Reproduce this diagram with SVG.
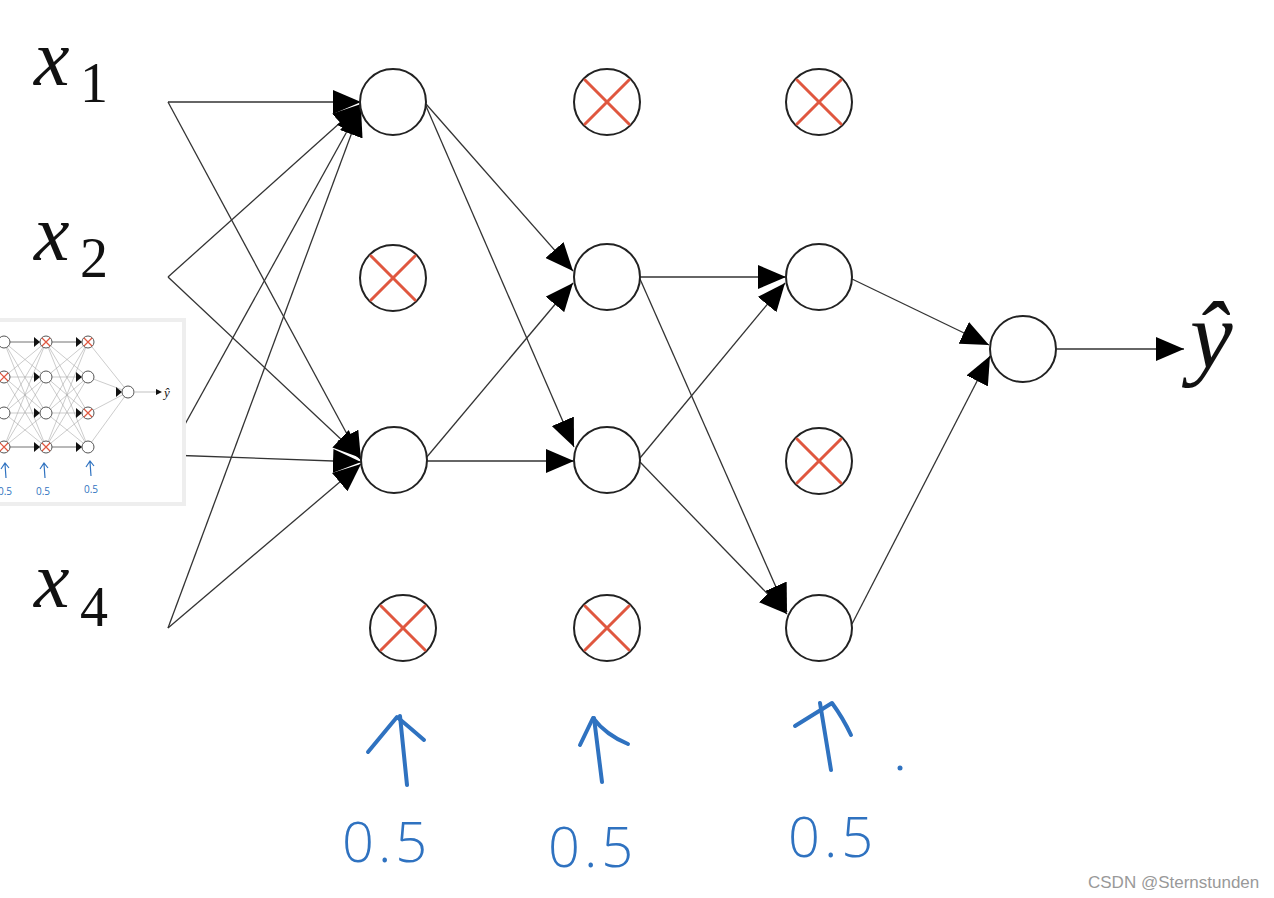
<svg xmlns="http://www.w3.org/2000/svg" width="1274" height="898" viewBox="0 0 1274 898">
  <style>
    .edge { stroke: #333; stroke-width: 1.3; fill: none; marker-end: url(#ah); }
    .node { fill: #fff; stroke: #222; stroke-width: 2; }
    .cross { stroke: #e0573f; stroke-width: 3; stroke-linecap: round; }
    .lbl { font-family: "Liberation Serif", "Times New Roman", serif; fill: #111; }
    .xi { font-style: italic; font-size: 80px; }
    .sub { font-size: 56px; }
    .hand { stroke: #2f72c0; stroke-width: 4; fill: none; stroke-linecap: round; stroke-linejoin: round; }
    .handtxt { font-family: "Open Sans", "DejaVu Sans", sans-serif; font-weight: 300; font-size: 56px; fill: #2f72c0; letter-spacing: 4px; }
    .mini { stroke: #aaa; stroke-width: 0.6; }
    .mnode { fill: #fff; stroke: #555; stroke-width: 1; }
    .mcross { stroke: #e0573f; stroke-width: 1.2; }
    .mhand { stroke: #2f72c0; stroke-width: 1.2; fill: none; }
  </style>
  <defs>
    <marker id="ah" viewBox="0 0 28 24" refX="28" refY="12" markerWidth="28" markerHeight="24" markerUnits="userSpaceOnUse" orient="auto">
      <path d="M0,0 L28,12 L0,24 z" fill="#000"/>
    </marker>
  </defs>
  <rect width="1274" height="898" fill="#fff"/>

  <!-- connectors -->
  <g id="connectors">
    <line class="edge" x1="168" y1="102" x2="361" y2="102"/>
    <line class="edge" x1="168" y1="102" x2="361" y2="460"/>
    <line class="edge" x1="168" y1="277" x2="361" y2="104"/>
    <line class="edge" x1="168" y1="277" x2="361" y2="458"/>
    <line class="edge" x1="168" y1="455" x2="361" y2="106"/>
    <line class="edge" x1="168" y1="455" x2="361" y2="462"/>
    <line class="edge" x1="168" y1="628" x2="361" y2="108"/>
    <line class="edge" x1="168" y1="628" x2="361" y2="464"/>

    <line class="edge" x1="426" y1="104" x2="573" y2="271"/>
    <line class="edge" x1="426" y1="106" x2="574" y2="447"/>
    <line class="edge" x1="426" y1="458" x2="573" y2="283"/>
    <line class="edge" x1="426" y1="461" x2="574" y2="461"/>

    <line class="edge" x1="640" y1="277" x2="786" y2="277"/>
    <line class="edge" x1="640" y1="279" x2="787" y2="612"/>
    <line class="edge" x1="640" y1="458" x2="785" y2="283"/>
    <line class="edge" x1="640" y1="462" x2="787" y2="614"/>

    <line class="edge" x1="852" y1="279" x2="989" y2="345"/>
    <line class="edge" x1="852" y1="624" x2="990" y2="356"/>

    <line class="edge" x1="1056" y1="349" x2="1184" y2="349"/>
  </g>

  <!-- input labels -->
  <g id="x1"><text class="lbl xi" x="34" y="85">x</text><text class="lbl sub" x="80" y="102">1</text></g>
  <g id="x2"><text class="lbl xi" x="34" y="260">x</text><text class="lbl sub" x="80" y="277">2</text></g>
  <g id="x4"><text class="lbl xi" x="34" y="607">x</text><text class="lbl sub" x="80" y="626">4</text></g>

  <!-- layer 1 -->
  <g id="n1a"><circle class="node" cx="393" cy="102" r="33"/></g>
  <g id="n1b"><circle class="node" cx="393" cy="278" r="33"/><line class="cross" x1="371" y1="256" x2="415" y2="300"/><line class="cross" x1="415" y1="256" x2="371" y2="300"/></g>
  <g id="n1c"><circle class="node" cx="394" cy="460" r="33"/></g>
  <g id="n1d"><circle class="node" cx="403" cy="628" r="33"/><line class="cross" x1="381" y1="606" x2="425" y2="650"/><line class="cross" x1="425" y1="606" x2="381" y2="650"/></g>

  <!-- layer 2 -->
  <g id="n2a"><circle class="node" cx="607" cy="102" r="33"/><line class="cross" x1="585" y1="80" x2="629" y2="124"/><line class="cross" x1="629" y1="80" x2="585" y2="124"/></g>
  <g id="n2b"><circle class="node" cx="607" cy="277" r="33"/></g>
  <g id="n2c"><circle class="node" cx="607" cy="460" r="33"/></g>
  <g id="n2d"><circle class="node" cx="607" cy="628" r="33"/><line class="cross" x1="585" y1="606" x2="629" y2="650"/><line class="cross" x1="629" y1="606" x2="585" y2="650"/></g>

  <!-- layer 3 -->
  <g id="n3a"><circle class="node" cx="819" cy="102" r="33"/><line class="cross" x1="797" y1="80" x2="841" y2="124"/><line class="cross" x1="841" y1="80" x2="797" y2="124"/></g>
  <g id="n3b"><circle class="node" cx="819" cy="277" r="33"/></g>
  <g id="n3c"><circle class="node" cx="819" cy="461" r="33"/><line class="cross" x1="797" y1="439" x2="841" y2="483"/><line class="cross" x1="841" y1="439" x2="797" y2="483"/></g>
  <g id="n3d"><circle class="node" cx="819" cy="628" r="33"/></g>

  <!-- output -->
  <g id="out"><circle class="node" cx="1023" cy="349" r="33"/></g>
  <g id="yhat"><text class="lbl" font-style="italic" font-size="96" x="1190" y="368">ŷ</text></g>

  <!-- handwritten keep-prob annotations -->
  <g id="anno1">
    <path class="hand" d="M407,785 L400,716"/>
    <path class="hand" d="M368,752 L397,717 Q408,726 424,740"/>
    <text class="handtxt" x="342" y="862">0.5</text>
  </g>
  <g id="anno2">
    <path class="hand" d="M602,782 L594,718"/>
    <path class="hand" d="M580,745 L593,718 Q606,735 628,744"/>
    <text class="handtxt" x="548" y="867">0.5</text>
  </g>
  <g id="anno3">
    <path class="hand" d="M831,770 L820,703"/>
    <path class="hand" d="M795,726 L832,703 Q843,718 851,735"/>
    <circle cx="900" cy="768" r="2.5" fill="#2f72c0"/>
    <text class="handtxt" x="788" y="857">0.5</text>
  </g>

  <!-- inset thumbnail -->
  <g id="inset">
    <rect x="0" y="318" width="186" height="188" fill="#eee"/>
    <rect x="0" y="322" width="182" height="180" fill="#fff"/>
    <g>
      <line class="mini" x1="4" y1="342" x2="46" y2="342"/><line class="mini" x1="4" y1="342" x2="46" y2="377"/><line class="mini" x1="4" y1="342" x2="46" y2="413"/><line class="mini" x1="4" y1="342" x2="46" y2="447"/>
      <line class="mini" x1="4" y1="377" x2="46" y2="342"/><line class="mini" x1="4" y1="377" x2="46" y2="377"/><line class="mini" x1="4" y1="377" x2="46" y2="413"/><line class="mini" x1="4" y1="377" x2="46" y2="447"/>
      <line class="mini" x1="4" y1="413" x2="46" y2="342"/><line class="mini" x1="4" y1="413" x2="46" y2="377"/><line class="mini" x1="4" y1="413" x2="46" y2="413"/><line class="mini" x1="4" y1="413" x2="46" y2="447"/>
      <line class="mini" x1="4" y1="447" x2="46" y2="342"/><line class="mini" x1="4" y1="447" x2="46" y2="377"/><line class="mini" x1="4" y1="447" x2="46" y2="413"/><line class="mini" x1="4" y1="447" x2="46" y2="447"/>
      <line class="mini" x1="46" y1="342" x2="88" y2="342"/><line class="mini" x1="46" y1="342" x2="88" y2="377"/><line class="mini" x1="46" y1="342" x2="88" y2="413"/><line class="mini" x1="46" y1="342" x2="88" y2="447"/>
      <line class="mini" x1="46" y1="377" x2="88" y2="342"/><line class="mini" x1="46" y1="377" x2="88" y2="377"/><line class="mini" x1="46" y1="377" x2="88" y2="413"/><line class="mini" x1="46" y1="377" x2="88" y2="447"/>
      <line class="mini" x1="46" y1="413" x2="88" y2="342"/><line class="mini" x1="46" y1="413" x2="88" y2="377"/><line class="mini" x1="46" y1="413" x2="88" y2="413"/><line class="mini" x1="46" y1="413" x2="88" y2="447"/>
      <line class="mini" x1="46" y1="447" x2="88" y2="342"/><line class="mini" x1="46" y1="447" x2="88" y2="377"/><line class="mini" x1="46" y1="447" x2="88" y2="413"/><line class="mini" x1="46" y1="447" x2="88" y2="447"/>
      <line class="mini" x1="88" y1="342" x2="128" y2="392"/><line class="mini" x1="88" y1="377" x2="128" y2="392"/><line class="mini" x1="88" y1="413" x2="128" y2="392"/><line class="mini" x1="88" y1="447" x2="128" y2="392"/>
      <line x1="4" y1="342" x2="88" y2="342" stroke="#777" stroke-width="0.8"/>
      <line x1="4" y1="447" x2="88" y2="447" stroke="#777" stroke-width="0.8"/>
      <line x1="135" y1="392" x2="156" y2="392" stroke="#999" stroke-width="0.6"/>
    </g>
    <g fill="#111">
      <path d="M34,337 L40,342 L34,347 z"/><path d="M34,372 L40,377 L34,382 z"/><path d="M34,408 L40,413 L34,418 z"/><path d="M34,442 L40,447 L34,452 z"/>
      <path d="M76,337 L82,342 L76,347 z"/><path d="M76,372 L82,377 L76,382 z"/><path d="M76,408 L82,413 L76,418 z"/><path d="M76,442 L82,447 L76,452 z"/>
      <path d="M116,387 L122,392 L116,397 z"/>
      <path d="M156,389 L162,392 L156,395 z"/>
    </g>
    <g>
      <circle class="mnode" cx="4" cy="342" r="6"/><circle class="mnode" cx="4" cy="377" r="6"/><circle class="mnode" cx="4" cy="413" r="6"/><circle class="mnode" cx="4" cy="447" r="6"/>
      <circle class="mnode" cx="46" cy="342" r="6"/><circle class="mnode" cx="46" cy="377" r="6"/><circle class="mnode" cx="46" cy="413" r="6"/><circle class="mnode" cx="46" cy="447" r="6"/>
      <circle class="mnode" cx="88" cy="342" r="6"/><circle class="mnode" cx="88" cy="377" r="6"/><circle class="mnode" cx="88" cy="413" r="6"/><circle class="mnode" cx="88" cy="447" r="6"/>
      <circle class="mnode" cx="128" cy="392" r="6"/>
      <path class="mcross" d="M0,373 L8,381 M8,373 L0,381 M0,443 L8,451 M8,443 L0,451"/>
      <path class="mcross" d="M42,338 L50,346 M50,338 L42,346 M42,443 L50,451 M50,443 L42,451"/>
      <path class="mcross" d="M84,338 L92,346 M92,338 L84,346 M84,409 L92,417 M92,409 L84,417"/>
    </g>
    <text x="164" y="397" font-family="Liberation Serif, serif" font-style="italic" font-size="13" fill="#111">ŷ</text>
    <path class="mhand" d="M6,478 L5,464 M1,469 L5,463 L9,468"/>
    <path class="mhand" d="M45,478 L44,464 M40,469 L44,463 L48,468"/>
    <path class="mhand" d="M91,476 L90,462 M86,467 L90,461 L94,466"/>
    <text x="-2" y="495" font-family="Open Sans, sans-serif" font-size="10" fill="#2f72c0">0.5</text>
    <text x="36" y="495" font-family="Open Sans, sans-serif" font-size="10" fill="#2f72c0">0.5</text>
    <text x="84" y="493" font-family="Open Sans, sans-serif" font-size="10" fill="#2f72c0">0.5</text>
  </g>

  <text x="1088" y="888" font-family="Liberation Sans, Arial, sans-serif" font-size="17" fill="#999">CSDN @Sternstunden</text>
</svg>
